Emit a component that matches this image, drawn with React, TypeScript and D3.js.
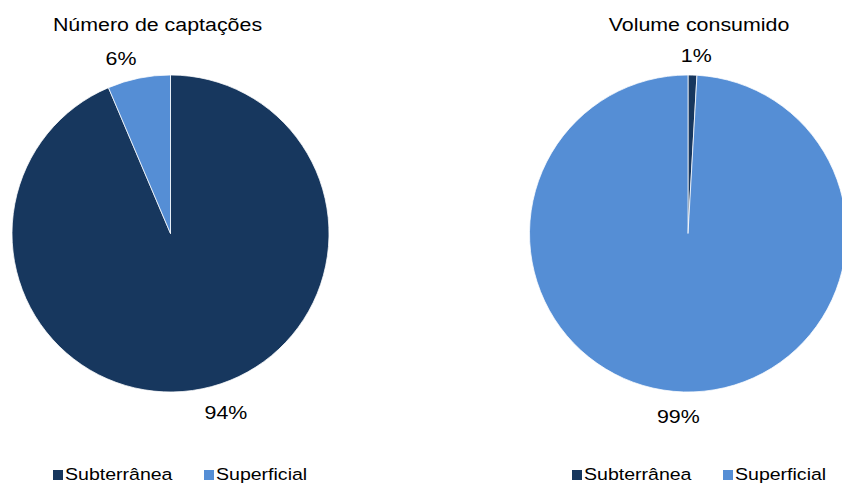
import React from "react";
import * as d3 from "d3";

// Source categories and the share of each in the two charts (%)
const categories = ["Subterrânea", "Superficial"];
const captacoes = [93.6, 6.4];
const volume = [0.9, 99.1];
const titles = ["Número de captações", "Volume consumido"];

const colors = ["#17375e", "#558ed5"];
const W = 842;
const H = 483;
const FONT = "'Liberation Sans', Arial, sans-serif";
const STRETCH = 1.15; // horizontal widening of all text
const LABEL_SIZE = 18.6;

type PieProps = {
  values: number[];
  title: string;
  cx: number;
  cy: number;
  r: number;
  titleX: number;
  legendX: number;
};

// Rough width of a percentage label ("94%") in Arial metrics
function labelWidth(s: string) {
  let em = 0;
  for (const ch of s) em += ch === "%" ? 0.889 : 0.556;
  return em * LABEL_SIZE * STRETCH;
}

function StretchText({ x, y, size, anchor, children }: { x: number; y: number; size: number; anchor: "start" | "middle"; children: React.ReactNode }) {
  return (
    <text
      transform={`translate(${x},${y}) scale(${STRETCH},1)`}
      textAnchor={anchor}
      fontFamily={FONT}
      fontSize={size}
      fill="#000"
    >
      {children}
    </text>
  );
}

function PieChart({ values, title, cx, cy, r, titleX, legendX }: PieProps) {
  const pie = d3.pie<number>().sort(null).value((d) => d);
  const arcs = pie(values);
  const total = d3.sum(values);
  const arc = d3.arc<d3.PieArcDatum<number>>().innerRadius(0).outerRadius(r);
  const fmt = d3.format(".0%");
  const clamp = (v: number) => Math.max(-1, Math.min(1, v));
  const gap = r + 12;
  const boxH = 20;
  const glyphShift = 2; // glyphs sit slightly below the middle of their box

  return (
    <g>
      <StretchText x={titleX} y={30.7} size={18.6} anchor="middle">
        {title}
      </StretchText>
      <g transform={`translate(${cx},${cy})`}>
        {arcs.map((a, i) => (
          <path key={i} d={arc(a) ?? ""} fill={colors[i]} stroke="#ffffff" strokeWidth={0.75} />
        ))}
        {arcs.map((a, i) => {
          // outside-end label: the box corner facing the pie sits on a ring just outside it
          const mid = (a.startAngle + a.endAngle) / 2;
          const s = Math.sin(mid);
          const c = Math.cos(mid);
          const txt = fmt(a.data / total);
          const w = labelWidth(txt);
          const lx = s * gap + clamp(s * 8) * (w / 2);
          const ly = -c * gap - clamp(c * 8) * (boxH / 2) + glyphShift;
          return (
            <StretchText key={i} x={lx} y={ly + 0.36 * LABEL_SIZE} size={LABEL_SIZE} anchor="middle">
              {txt}
            </StretchText>
          );
        })}
      </g>
      <g transform={`translate(${legendX},480)`}>
        {categories.map((cat, i) => (
          <g key={cat} transform={`translate(${i * 151},0)`}>
            <rect x={0} y={-10} width={10} height={10} fill={colors[i]} />
            <StretchText x={12} y={0} size={17} anchor="start">
              {cat}
            </StretchText>
          </g>
        ))}
      </g>
    </g>
  );
}

export default function App() {
  return (
    <svg width={W} height={H} style={{ position: "absolute", left: 0, top: 0, background: "#fff" }}>
      <PieChart values={captacoes} title={titles[0]} cx={170.5} cy={233.5} r={158.5} titleX={157.5} legendX={53} />
      <PieChart values={volume} title={titles[1]} cx={688} cy={233.5} r={158.5} titleX={699} legendX={572} />
    </svg>
  );
}
